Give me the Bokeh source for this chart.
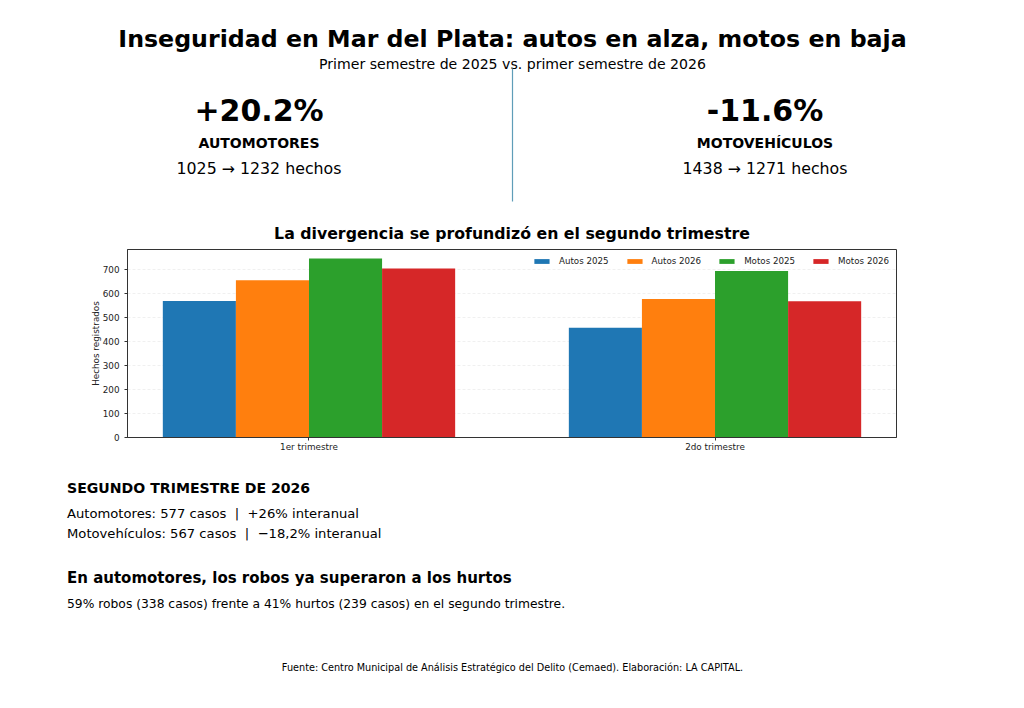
from bokeh.plotting import figure
from bokeh.layouts import column
from bokeh.models import Range1d, FixedTicker, Legend, LegendItem
from bokeh.core.properties import value
from bokeh.embed import file_html
from bokeh.resources import INLINE

FONT = "DejaVu Sans"

quarters = ["1er trimestre", "2do trimestre"]
series_names = ["Autos 2025", "Autos 2026", "Motos 2025", "Motos 2026"]
autos_2025 = [568, 457]
autos_2026 = [655, 577]
motos_2025 = [745, 693]
motos_2026 = [704, 567]
series_colors = ["#1f77b4", "#ff7f0e", "#2ca02c", "#d62728"]
y_ticks = [0, 100, 200, 300, 400, 500, 600, 700]

title_text = "Inseguridad en Mar del Plata: autos en alza, motos en baja"
subtitle_text = "Primer semestre de 2025 vs. primer semestre de 2026"
chart_title = "La divergencia se profundizó en el segundo trimestre"
y_label = "Hechos registrados"
kpi_left = ["+20.2%", "AUTOMOTORES", "1025 → 1232 hechos"]
kpi_right = ["-11.6%", "MOTOVEHÍCULOS", "1438 → 1271 hechos"]
section_head = "SEGUNDO TRIMESTRE DE 2026"
section_lines = ["Automotores: 577 casos\u00a0 |\u00a0 +26% interanual",
                 "Motovehículos: 567 casos\u00a0 |\u00a0 −18,2% interanual"]
robos_head = "En automotores, los robos ya superaron a los hurtos"
robos_line = "59% robos (338 casos) frente a 41% hurtos (239 casos) en el segundo trimestre."
source_text = "Fuente: Centro Municipal de Análisis Estratégico del Delito (Cemaed). Elaboración: LA CAPITAL."


def panel(top, bottom):
    """Blank figure whose data coordinates equal page pixels."""
    f = figure(width=1024, height=bottom - top, output_backend="svg", toolbar_location=None,
               x_range=Range1d(0, 1024), y_range=Range1d(bottom, top),
               min_border=0, outline_line_color=None, frame_align=False)
    f.axis.visible = False
    f.grid.visible = False
    return f


def put(f, x, y, text, size, bold=False, align="center"):
    f.text([x], [y], text=[text], text_font=value(FONT), text_font_size=size,
           text_font_style="bold" if bold else "normal", text_align=align,
           text_baseline="middle", text_color="#000000")


# Header
head = panel(0, 215)
put(head, 512, 38.5, title_text, "23.7px", True)
put(head, 512, 63.5, subtitle_text, "14.1px")
for cx, (big, name, detail) in ((259, kpi_left), (765, kpi_right)):
    put(head, cx - 0.5, 110, big, "30px", True)
    put(head, cx - 0.5, 142.5, name, "14px", True)
    put(head, cx - 0.5, 167.5, detail, "15.8px")
head.segment([512], [68], [512], [201], line_color="#5f9db8", line_width=1.2)

# Chart
chart = figure(width=1024, height=250, output_backend="svg", toolbar_location=None,
               x_range=Range1d(-0.447, 1.447), y_range=Range1d(0, 783),
               min_border_left=127, min_border_right=128, min_border_top=24, min_border_bottom=28,
               frame_align=False)
chart.title.text = chart_title
chart.title.align = "center"
chart.title.text_font = FONT
chart.title.text_font_size = "15.75px"
chart.title.text_font_style = "bold"
chart.title.text_color = "#000000"
chart.title.standoff = 13

values = [autos_2025, autos_2026, motos_2025, motos_2026]
bar_w = 0.18
items = []
for i, (name, vals, col) in enumerate(zip(series_names, values, series_colors)):
    xs = [q + (i - 1.5) * bar_w for q in range(len(quarters))]
    r = chart.vbar(x=xs, top=vals, width=bar_w, fill_color=col, line_color=None)
    items.append(LegendItem(label=name, renderers=[r]))

legend = Legend(items=items, orientation="horizontal", location="top_right",
                glyph_width=19, glyph_height=6, label_standoff=8, spacing=16,
                label_text_font=FONT, label_text_font_size="8.7px", label_text_color="#222222",
                border_line_color=None, background_fill_alpha=0, padding=0, margin=7)
chart.add_layout(legend)

chart.xaxis.ticker = FixedTicker(ticks=list(range(len(quarters))))
chart.xaxis.major_label_overrides = {i: q for i, q in enumerate(quarters)}
chart.xaxis.major_label_standoff = 1
chart.yaxis.ticker = FixedTicker(ticks=y_ticks)
chart.yaxis.axis_label = y_label
chart.yaxis.axis_label_text_font = FONT
chart.yaxis.axis_label_text_font_size = "8.8px"
chart.yaxis.axis_label_text_font_style = "normal"
chart.yaxis.axis_label_text_color = "#222222"
chart.yaxis.axis_label_standoff = -1
for ax in (chart.xaxis, chart.yaxis):
    ax.major_label_text_font = FONT
    ax.major_label_text_font_size = "8.8px"
    ax.major_label_text_color = "#222222"
    ax.major_tick_out = 3
    ax.major_tick_in = 0
    ax.minor_tick_out = 0
    ax.minor_tick_in = 0
    ax.axis_line_color = "#333333"
    ax.major_tick_line_color = "#333333"
chart.xgrid.visible = False
chart.ygrid.grid_line_color = "#f0f0f0"
chart.ygrid.grid_line_dash = [3, 2]
chart.outline_line_color = "#333333"
chart.outline_line_alpha = 1

# Footer
foot = panel(465, 708)
put(foot, 66.5, 487, section_head, "14.1px", True, "left")
put(foot, 66.5, 513, section_lines[0], "13.15px", False, "left")
put(foot, 66.5, 533, section_lines[1], "13.15px", False, "left")
put(foot, 66.5, 577, robos_head, "15px", True, "left")
put(foot, 66.5, 603, robos_line, "12.3px", False, "left")
put(foot, 512, 666.5, source_text, "9.7px")

page = column(head, chart, foot, spacing=0)
open("out.html", "w").write(file_html(page, INLINE))
